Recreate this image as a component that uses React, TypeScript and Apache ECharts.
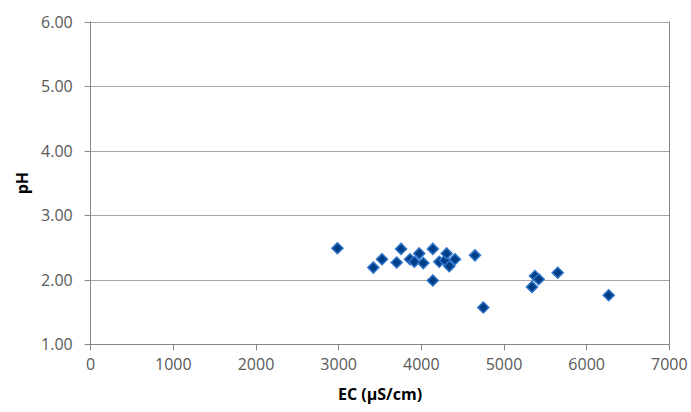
import React, { useEffect, useRef } from "react";
import * as echarts from "echarts";

const ecValues = [2985, 3419, 3524, 3755, 3702, 3863, 3915, 3975, 4024, 4139, 4139, 4217, 4286, 4307, 4338, 4407, 4649, 4750, 5339, 5375, 5420, 5650, 6267];
const phValues = [2.49, 2.19, 2.32, 2.48, 2.27, 2.32, 2.28, 2.41, 2.26, 2.48, 1.99, 2.28, 2.30, 2.41, 2.21, 2.32, 2.38, 1.57, 1.89, 2.06, 2.01, 2.11, 1.76];
const xTitle = "EC (µS/cm)";
const yTitle = "pH";

export default function App() {
  const ref = useRef<HTMLDivElement>(null);
  useEffect(() => {
    if (!ref.current) return;
    const chart = echarts.init(ref.current, null, { renderer: "svg" });
    const font = "'Open Sans', 'Liberation Sans', sans-serif";
    chart.setOption({
      animation: false,
      grid: { left: 90.7, right: 21.7, top: 22, bottom: 67.7 },
      xAxis: {
        type: "value",
        min: 0,
        max: 7000,
        interval: 1000,
        name: xTitle,
        nameLocation: "middle",
        nameGap: 42,
        nameTextStyle: { fontFamily: font, fontSize: 16, fontWeight: "bold", color: "#000" },
        axisLine: { show: true, onZero: false, lineStyle: { color: "#868686", width: 1 } },
        axisTick: { show: true, length: 6, lineStyle: { color: "#868686" } },
        axisLabel: { fontFamily: font, fontSize: 16, color: "#595959", margin: 12, formatter: (v: number) => String(v) },
        splitLine: { show: false },
      },
      yAxis: [
        {
          type: "value",
          min: 1,
          max: 6,
          interval: 1,
          name: yTitle,
          nameLocation: "middle",
          nameGap: 56,
          nameTextStyle: { fontFamily: font, fontSize: 16, fontWeight: "bold", color: "#000" },
          axisLine: { show: true, lineStyle: { color: "#868686", width: 1 } },
          axisTick: { show: true, length: 6, lineStyle: { color: "#868686" } },
          axisLabel: { fontFamily: font, fontSize: 16, color: "#595959", margin: 18, formatter: (v: number) => v.toFixed(2) },
          splitLine: { show: true, lineStyle: { color: "#a6a6a6", width: 1 } },
        },
        {
          type: "value",
          min: 1,
          max: 6,
          interval: 1,
          position: "right",
          axisLine: { show: true, lineStyle: { color: "#868686", width: 1 } },
          axisTick: { show: false },
          axisLabel: { show: false },
          splitLine: { show: false },
        },
      ],
      series: [
        {
          type: "scatter",
          data: ecValues.map((x, i) => [x, phValues[i]]),
          symbol: "diamond",
          symbolSize: 11,
          itemStyle: { color: "#003f88", borderColor: "#2c72c9", borderWidth: 1.5, opacity: 1 },
        },
      ],
    });
    return () => chart.dispose();
  }, []);
  return <div ref={ref} style={{ width: 691, height: 412, position: "absolute", left: 0, top: 0 }} />;
}
